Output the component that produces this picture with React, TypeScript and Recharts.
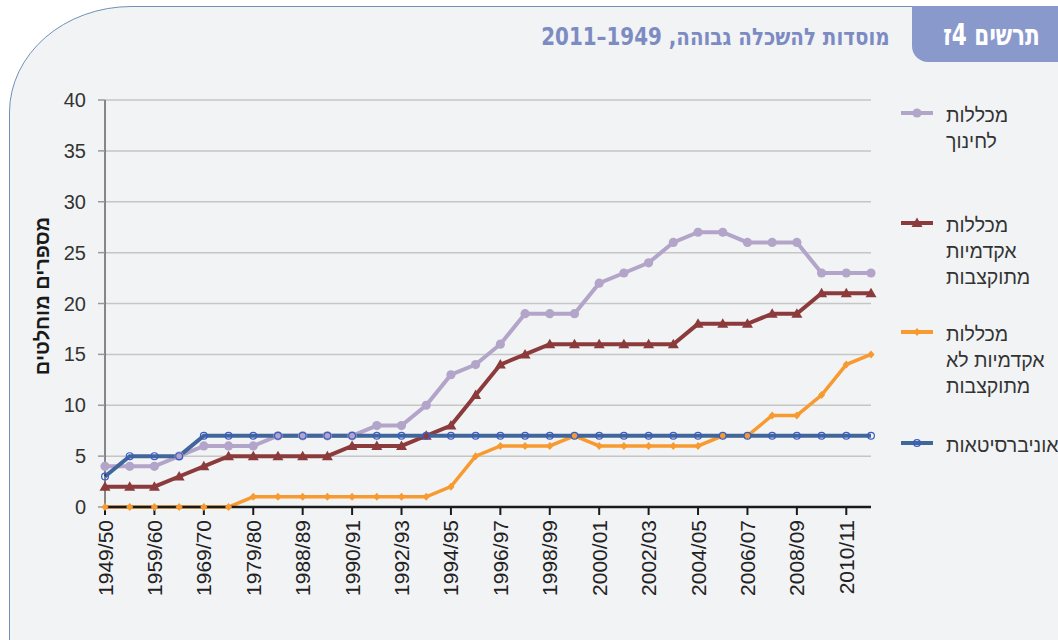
import { LineChart, Line, XAxis, YAxis, CartesianGrid } from 'recharts'

const years = [
  '1949/50', '1954/55', '1959/60', '1964/65', '1969/70', '1974/75', '1979/80', '1984/85',
  '1988/89', '1989/90', '1990/91', '1991/92', '1992/93', '1993/94', '1994/95', '1995/96',
  '1996/97', '1997/98', '1998/99', '1999/00', '2000/01', '2001/02', '2002/03', '2003/04',
  '2004/05', '2005/06', '2006/07', '2007/08', '2008/09', '2009/10', '2010/11', '2011/12'
]

const teachingColleges = [4, 4, 4, 5, 6, 6, 6, 7, 7, 7, 7, 8, 8, 10, 13, 14, 16, 19, 19, 19, 22, 23, 24, 26, 27, 27, 26, 26, 26, 23, 23, 23]
const budgetedColleges = [2, 2, 2, 3, 4, 5, 5, 5, 5, 5, 6, 6, 6, 7, 8, 11, 14, 15, 16, 16, 16, 16, 16, 16, 18, 18, 18, 19, 19, 21, 21, 21]
const nonBudgetedColleges = [0, 0, 0, 0, 0, 0, 1, 1, 1, 1, 1, 1, 1, 1, 2, 5, 6, 6, 6, 7, 6, 6, 6, 6, 6, 7, 7, 9, 9, 11, 14, 15]
const universities = [3, 5, 5, 5, 7, 7, 7, 7, 7, 7, 7, 7, 7, 7, 7, 7, 7, 7, 7, 7, 7, 7, 7, 7, 7, 7, 7, 7, 7, 7, 7, 7]

const yTicks = [0, 5, 10, 15, 20, 25, 30, 35, 40]

const chartData = years.map((year, i) => ({
  year,
  teaching: teachingColleges[i],
  budgeted: budgetedColleges[i],
  nonBudgeted: nonBudgetedColleges[i],
  universities: universities[i]
}))

const FONT = '"Liberation Sans", Arial, sans-serif'
const TITLE_FONT = '"DejaVu Sans Condensed", "DejaVu Sans", sans-serif'

type Marker = 'circle' | 'triangle' | 'diamond' | 'ring'

const series: { key: string; label: string[]; color: string; marker: Marker; legendY: number }[] = [
  { key: 'teaching', label: ['מכללות', 'לחינוך'], color: '#b3a5c9', marker: 'circle', legendY: 113 },
  { key: 'budgeted', label: ['מכללות', 'אקדמיות', 'מתוקצבות'], color: '#8c3b3d', marker: 'triangle', legendY: 223 },
  { key: 'nonBudgeted', label: ['מכללות', 'אקדמיות לא', 'מתוקצבות'], color: '#f79a2f', marker: 'diamond', legendY: 332 },
  { key: 'universities', label: ['אוניברסיטאות'], color: '#41669a', marker: 'ring', legendY: 443 }
]

function drawMarker(type: Marker, cx: number, cy: number, color: string, key?: any) {
  if (type === 'circle') return <circle key={key} cx={cx} cy={cy} r={4.6} fill={color} />
  if (type === 'triangle')
    return <polygon key={key} points={`${cx},${cy - 5.5} ${cx + 5.5},${cy + 4} ${cx - 5.5},${cy + 4}`} fill={color} />
  if (type === 'diamond')
    return <polygon key={key} points={`${cx},${cy - 4} ${cx + 3.6},${cy} ${cx},${cy + 4} ${cx - 3.6},${cy}`} fill={color} />
  return <circle key={key} cx={cx} cy={cy} r={3.4} fill="none" stroke="#3a5cc4" strokeWidth={1.2} />
}

const XTick = (props: any) => {
  const { x, y, payload } = props
  return (
    <text
      transform={`translate(${x + 7.5},${y + 3}) rotate(-90)`}
      textAnchor="end"
      fontSize={21}
      fontFamily={FONT}
      fill="#222"
    >
      {payload.value}
    </text>
  )
}

export default function App() {
  return (
    <div style={{ position: 'absolute', left: 0, top: 0, width: 1058, height: 640, background: '#fff', overflow: 'hidden' }}>
      <svg width={1058} height={640} style={{ position: 'absolute', left: 0, top: 0 }}>
        <path
          d="M 9.5 645 L 9.5 112 A 122 106 0 0 1 131 6.5 L 1065 6.5 L 1065 645 Z"
          fill="#f2f3f5"
          stroke="#7090b8"
          strokeWidth={1}
        />
        <path d="M 912 6 L 1060 6 L 1060 62 L 928 62 A 16 16 0 0 1 912 46 Z" fill="#8a99cc" />
      </svg>

      <div
        dir="rtl"
        style={{
          position: 'absolute', right: 168, top: 25, whiteSpace: 'nowrap',
          fontFamily: TITLE_FONT, fontWeight: 'bold',
          fontSize: 24, lineHeight: '24px', color: '#7d8bc3', transform: 'scaleX(0.92)', transformOrigin: 'right center'
        }}
      >
        מוסדות להשכלה גבוהה, 1949–2011
      </div>
      <div
        dir="rtl"
        style={{
          position: 'absolute', right: 18, top: 20, whiteSpace: 'nowrap',
          fontFamily: TITLE_FONT, fontWeight: 'bold',
          fontSize: 30, lineHeight: '30px', color: '#fff', transform: 'scaleX(0.8)', transformOrigin: 'right center'
        }}
      >
        תרשים <span style={{ unicodeBidi: 'bidi-override', direction: 'ltr' }}>ז4</span>
      </div>

      <div style={{ position: 'absolute', left: 0, top: 0 }}>
        <LineChart width={1058} height={640} data={chartData} margin={{ top: 100, right: 187, bottom: 0, left: 0 }}>
          <CartesianGrid vertical={false} stroke="#c6c6c6" strokeWidth={1.5} />
          <XAxis
            dataKey="year"
            interval={1}
            height={133}
            tickSize={8}
            tickMargin={2}
            axisLine={{ stroke: '#1a1a1a', strokeWidth: 2.5 }}
            tickLine={{ stroke: '#1a1a1a', strokeWidth: 2 }}
            tick={<XTick />}
          />
          <YAxis
            width={105}
            domain={[0, 40]}
            ticks={yTicks}
            interval={0}
            tickSize={7}
            tickMargin={12}
            axisLine={{ stroke: '#1a1a1a', strokeWidth: 1 }}
            tickLine={{ stroke: '#999', strokeWidth: 1.5 }}
            tick={{ fill: '#333', fontSize: 20, fontFamily: FONT }}
          />
          {series.map((s) => (
            <Line
              key={s.key}
              type="linear"
              dataKey={s.key}
              stroke={s.color}
              strokeWidth={s.key === 'nonBudgeted' ? 3.5 : 4}
              isAnimationActive={false}
              activeDot={false}
              dot={(p: any) => drawMarker(s.marker, p.cx, p.cy, s.color, `${s.key}-${p.index}`)}
            />
          ))}
        </LineChart>
      </div>

      <svg width={1058} height={640} style={{ position: 'absolute', left: 0, top: 0, pointerEvents: 'none' }}>
        <text
          transform="translate(49,296) rotate(-90)"
          textAnchor="middle"
          fontSize={20}
          fontWeight="bold"
          fontFamily={FONT}
          fill="#1a1a1a"
        >
          מספרים מוחלטים
        </text>
        {series.map((s) => (
          <g key={s.key}>
            <line x1={901} x2={933} y1={s.legendY} y2={s.legendY} stroke={s.color} strokeWidth={4} />
            {drawMarker(s.marker, 917, s.legendY, s.color)}
            {s.label.map((line, i) => (
              <text key={i} x={946} y={s.legendY + 8.5 + i * 26} fontSize={19.5} fontFamily={FONT} fill="#333">
                {line}
              </text>
            ))}
          </g>
        ))}
      </svg>
    </div>
  )
}
